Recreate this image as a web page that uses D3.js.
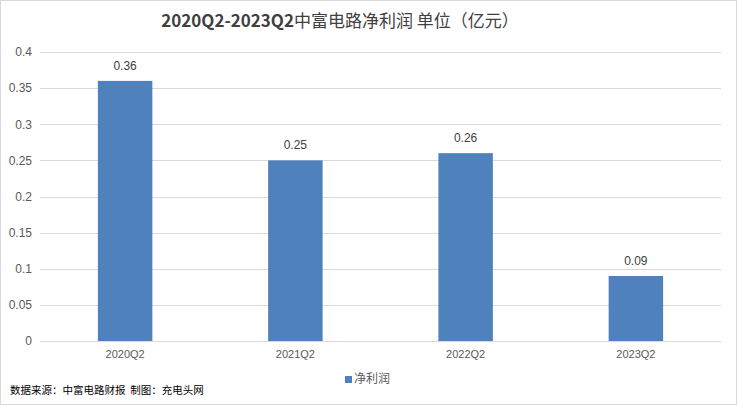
<!DOCTYPE html>
<html>
<head>
<meta charset="utf-8">
<script src="https://cdn.jsdelivr.net/npm/d3@7"></script>
<style>
  body { margin: 0; background: #fff; }
  text { font-family: "Microsoft YaHei", "Noto Sans CJK SC", "DejaVu Sans", sans-serif; }
</style>
</head>
<body>
<svg id="chart" width="737" height="405"></svg>
<script>
// data
const categories = ['2020Q2', '2021Q2', '2022Q2', '2023Q2'];
const profit = [0.36, 0.25, 0.26, 0.09];
const yTicks = [0, 0.05, 0.1, 0.15, 0.2, 0.25, 0.3, 0.35, 0.4];
const seriesName = '净利润';

const W = 737, H = 405;
const margin = { top: 52, right: 16, bottom: 64, left: 40 };
const barColor = '#4f81bd';
const textColor = '#595959';

const svg = d3.select('#chart');

// outer border
svg.append('rect')
    .attr('x', 0.5).attr('y', 0.5)
    .attr('width', W - 1).attr('height', H - 1)
    .attr('fill', '#fff')
    .attr('stroke', '#d9d9d9');

const x = d3.scaleBand()
    .domain(categories)
    .range([margin.left, W - margin.right])
    .paddingInner(0.68)
    .paddingOuter(0.34);

const y = d3.scaleLinear()
    .domain([0, 0.4])
    .range([H - margin.bottom, margin.top]);

// gridlines
svg.append('g')
    .selectAll('line')
    .data(yTicks)
    .enter()
    .append('line')
    .attr('x1', margin.left)
    .attr('x2', W - margin.right)
    .attr('y1', d => Math.round(y(d)) + 0.5)
    .attr('y2', d => Math.round(y(d)) + 0.5)
    .attr('stroke', '#d9d9d9')
    .attr('stroke-width', 1);

// y axis labels
const yAxis = d3.axisLeft(y)
    .tickValues(yTicks)
    .tickFormat(d => d3.format('')(+d.toFixed(2)))
    .tickSize(0)
    .tickPadding(8);

svg.append('g')
    .attr('transform', `translate(${margin.left},0)`)
    .call(yAxis)
    .call(g => g.select('.domain').remove())
    .call(g => g.selectAll('text')
        .attr('fill', textColor)
        .style('font-size', '12px')
        .style('font-family', '"Liberation Sans", Arial, sans-serif'));

// x axis labels
const xAxis = d3.axisBottom(x).tickSize(0).tickPadding(9);
svg.append('g')
    .attr('transform', `translate(0,${H - margin.bottom})`)
    .call(xAxis)
    .call(g => g.select('.domain').remove())
    .call(g => g.selectAll('text')
        .attr('fill', textColor)
        .style('font-size', '11px')
        .style('font-family', '"Liberation Sans", Arial, sans-serif'));

// bars
svg.append('g')
    .selectAll('rect')
    .data(profit)
    .enter()
    .append('rect')
    .attr('x', (d, i) => x(categories[i]))
    .attr('y', d => y(d))
    .attr('width', x.bandwidth())
    .attr('height', d => y(0) - y(d))
    .attr('fill', barColor);

// value labels
svg.append('g')
    .selectAll('text')
    .data(profit)
    .enter()
    .append('text')
    .attr('x', (d, i) => x(categories[i]) + x.bandwidth() / 2)
    .attr('y', d => y(d) - 11)
    .attr('text-anchor', 'middle')
    .attr('fill', '#404040')
    .style('font-size', '12px')
    .style('font-family', '"Liberation Sans", Arial, sans-serif')
    .text(d => d.toFixed(2));

// title: latin part bold, CJK part regular
const title = svg.append('text')
    .attr('x', 340)
    .attr('y', 27)
    .attr('text-anchor', 'middle')
    .attr('fill', '#404040')
    .style('font-size', '17px');
title.append('tspan').style('font-weight', 'bold').text('2020Q2-2023Q2');
title.append('tspan').style('font-weight', 'normal').text('中富电路净利润 单位（亿元）');

// legend
const legend = svg.append('g').attr('transform', 'translate(345,383)');
legend.append('rect')
    .attr('x', 0).attr('y', -7)
    .attr('width', 7).attr('height', 7)
    .attr('fill', barColor);
legend.append('text')
    .attr('x', 9).attr('y', 0)
    .attr('fill', textColor)
    .style('font-size', '12px')
    .text(seriesName);

// source note
svg.append('text')
    .attr('x', 10)
    .attr('y', 394)
    .attr('fill', '#000')
    .style('font-size', '10.5px')
    .style('white-space', 'pre')
    .text('数据来源：中富电路财报  制图：充电头网');
</script>
</body>
</html>
